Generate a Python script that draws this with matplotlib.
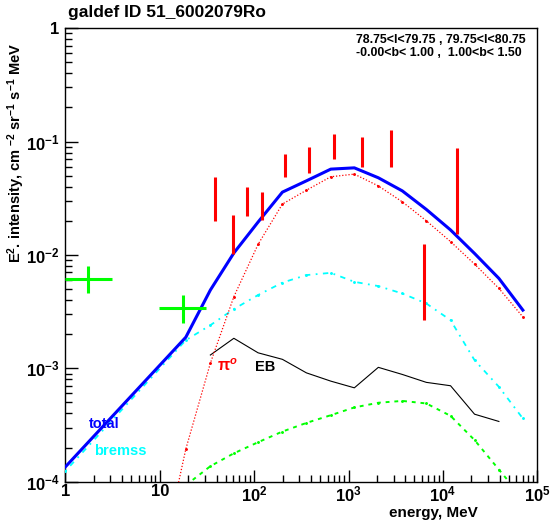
import numpy as np
import matplotlib
matplotlib.use('Agg')
import matplotlib.pyplot as plt
from matplotlib.ticker import LogLocator, NullFormatter, FixedLocator

plt.rcParams['font.family'] = ['Liberation Sans', 'DejaVu Sans']
plt.rcParams['font.weight'] = 'bold'
plt.rcParams['mathtext.fontset'] = 'custom'
plt.rcParams['mathtext.rm'] = 'Liberation Sans:bold'
plt.rcParams['mathtext.bf'] = 'Liberation Sans:bold'
plt.rcParams['mathtext.it'] = 'Liberation Sans:bold:italic'

# energy grid of the model curves, MeV
e_grid = [10.5, 18.9, 34.4, 61.0, 110.2, 199.5, 358, 649, 1153, 2070,
          3715, 6668, 12050, 21630, 39170, 70300]

# model curves, MeV cm^-2 sr^-1 s^-1
e_total = [1.0] + e_grid[1:]
total = [1.35e-4, 1.88e-3, 4.90e-3, 1.04e-2, 1.95e-2, 3.58e-2, 4.50e-2, 5.71e-2,
         5.86e-2, 4.79e-2, 3.67e-2, 2.52e-2, 1.66e-2, 1.03e-2, 6.21e-3, 3.26e-3]
pi0 = [2.04e-5, 1.94e-4, 1.11e-3, 4.28e-3, 1.24e-2, 2.81e-2, 3.72e-2, 4.89e-2,
       5.16e-2, 4.06e-2, 2.94e-2, 2.00e-2, 1.31e-2, 8.30e-3, 5.07e-3, 2.84e-3]
bremss = [1.24e-4, 1.77e-3, 2.40e-3, 3.33e-3, 4.43e-3, 5.70e-3, 6.64e-3, 6.95e-3,
          5.79e-3, 5.31e-3, 4.57e-3, 3.73e-3, 2.66e-3, 1.18e-3, 6.87e-4, 3.61e-4]
e_eb = e_grid[2:15]
eb = [1.31e-3, 1.84e-3, 1.37e-3, 1.20e-3, 9.12e-4, 7.71e-4, 6.73e-4, 1.02e-3,
      8.83e-4, 7.52e-4, 7.02e-4, 3.94e-4, 3.40e-4]
e_ic = e_grid[1:]
ic = [9.3e-5, 1.37e-4, 1.78e-4, 2.23e-4, 2.77e-4, 3.30e-4, 3.86e-4, 4.52e-4,
      4.97e-4, 5.16e-4, 4.90e-4, 3.81e-4, 2.33e-4, 1.28e-4, 7.1e-5]

# measured points (red bars)
e_data = [38.9, 59.3, 83.4, 122, 212, 386, 704, 1403, 2793, 6240, 13930]
data_lo = [2.00e-2, 1.01e-2, 2.20e-2, 2.03e-2, 4.85e-2, 5.30e-2, 6.95e-2, 5.92e-2,
           5.98e-2, 2.66e-3, 1.52e-2]
data_hi = [4.89e-2, 2.26e-2, 3.99e-2, 3.60e-2, 7.74e-2, 8.87e-2, 0.116, 0.110,
           0.126, 1.24e-2, 8.69e-2]

# low energy points (green crosses)
e_low = [1.75, 17.5]
e_low_lo = [1.0, 9.88]
e_low_hi = [3.10, 30.8]
i_low = [6.12e-3, 3.37e-3]
i_low_lo = [4.62e-3, 2.52e-3]
i_low_hi = [8.02e-3, 4.43e-3]

fig = plt.figure(figsize=(5.52, 5.21), dpi=100)
ax = fig.add_axes([0.1183, 0.0754, 0.9734 - 0.1183, 0.946 - 0.0754])
ax.set_xscale('log')
ax.set_yscale('log')
ax.set_xlim(1, 1e5)
ax.set_ylim(1e-4, 1)

ax.plot(e_total, total, color='#0000ff', lw=2.2, zorder=5)
ax.plot(e_grid, pi0, color='#ff0000', lw=0.9, ls=(0, (1, 1.5)), marker='.', ms=2.2, zorder=4)
ax.plot(e_total, bremss, color='#00ffff', lw=1.3, ls=(0, (1, 3, 3, 3)), marker='.', ms=2.2, zorder=3)
ax.plot(e_eb, eb, color='black', lw=0.8, zorder=3)
ax.plot(e_ic, ic, color='#00ff00', lw=1.4, ls=(0, (2, 2.5)), marker='.', ms=2.2, zorder=3)

ax.vlines(e_data, data_lo, data_hi, color='#ff0000', lw=2.2, zorder=6)

ax.hlines(i_low, e_low_lo, e_low_hi, color='#00ff00', lw=2.2, zorder=6)
ax.vlines(e_low, i_low_lo, i_low_hi, color='#00ff00', lw=2.2, zorder=6)

# ticks
ax.xaxis.set_major_locator(FixedLocator([1, 10, 1e2, 1e3, 1e4, 1e5]))
ax.set_xticklabels(['1', '10', r'$10^{2}$', r'$10^{3}$', r'$10^{4}$', r'$10^{5}$'])
ax.yaxis.set_major_locator(FixedLocator([1e-4, 1e-3, 1e-2, 1e-1, 1]))
ax.set_yticklabels([r'$10^{-4}$', r'$10^{-3}$', r'$10^{-2}$', r'$10^{-1}$', '1'])
ax.xaxis.set_minor_locator(LogLocator(base=10, subs=np.arange(2, 10), numticks=20))
ax.yaxis.set_minor_locator(LogLocator(base=10, subs=np.arange(2, 10), numticks=20))
ax.xaxis.set_minor_formatter(NullFormatter())
ax.yaxis.set_minor_formatter(NullFormatter())
ax.tick_params(which='both', direction='in', top=False, right=False, width=1.0)
ax.tick_params(which='major', length=9, labelsize=12)
ax.tick_params(axis='x', which='major', pad=2)
ax.tick_params(axis='y', which='major', pad=4)
ax.tick_params(which='minor', length=5)
for s in ax.spines.values():
    s.set_linewidth(1.0)

fig.text(68 / 552, 1 - 12 / 521, 'galdef ID 51_6002079Ro', fontsize=12.5,
         fontweight='bold', ha='left', va='center')
fig.text(356 / 552, 1 - 40 / 521, '78.75<l<79.75 , 79.75<l<80.75', fontsize=8.9,
         fontweight='bold', ha='left', va='center')
fig.text(356 / 552, 1 - 53 / 521, '-0.00<b< 1.00 ,  1.00<b< 1.50', fontsize=8.9,
         fontweight='bold', ha='left', va='center')

fig.text(478 / 552, 1 - 513 / 521, 'energy, MeV', fontsize=11, fontweight='bold',
         ha='right', va='center')
fig.text(16 / 552, 1 - 43 / 521,
         r'E$^{2}$. intensity, cm $^{-2}$ sr$^{-1}$ s$^{-1}$ MeV',
         fontsize=10.5, fontweight='bold', rotation=90, ha='center', va='top')

fig.text(89 / 552, 1 - 424 / 521, 'total', color='#0000ff', fontsize=10.5,
         fontweight='bold', ha='left', va='center')
fig.text(94 / 552, 1 - 451 / 521, 'bremss', color='#00ffff', fontsize=10.5,
         fontweight='bold', ha='left', va='center')
fig.text(217 / 552, 1 - 366 / 521, 'π$^{o}$', color='#ff0000', fontsize=11.5,
         fontweight='bold', ha='left', va='center')
fig.text(255 / 552, 1 - 367 / 521, 'EB', color='black', fontsize=10.5,
         fontweight='bold', ha='left', va='center')

fig.savefig('out.png', dpi=100)
